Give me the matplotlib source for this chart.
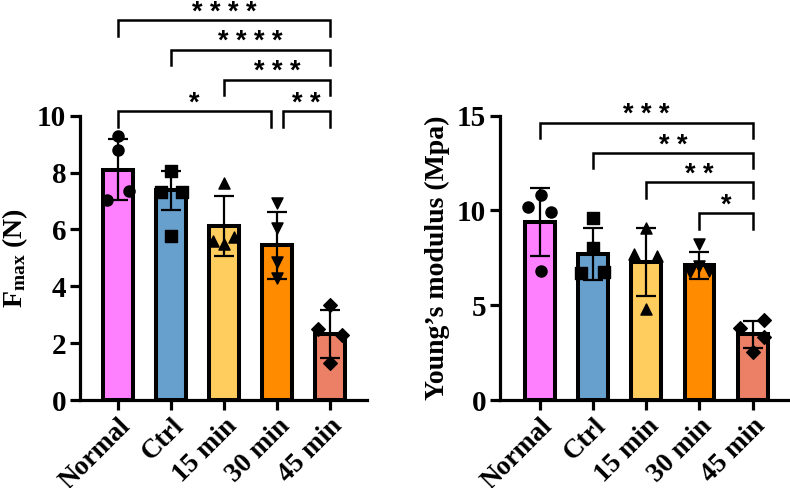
import matplotlib
matplotlib.use("Agg")
import matplotlib.pyplot as plt

# ---- data ----
groups = ["Normal", "Ctrl", "15 min", "30 min", "45 min"]
colors = ["#FF80FF", "#67A0CD", "#FFCC5E", "#FF8C00", "#EB8066"]
markers = ["o", "s", "^", "v", "D"]

fmax_mean = [8.1, 7.37, 6.13, 5.45, 2.32]
fmax_sd = [1.08, 0.67, 1.05, 1.18, 0.83]
fmax_points = [
    [9.3, 8.78, 7.05, 7.35],
    [8.06, 7.3, 7.3, 5.77],
    [7.65, 5.6, 5.75, 5.5],
    [6.93, 6.05, 4.85, 4.3],
    [3.34, 2.5, 2.3, 1.3],
]
fmax_ticks = [0, 2, 4, 6, 8, 10]
fmax_brackets = [  # (from, to, height, label)
    (0, 4, 13.36, "* * * *"),
    (1, 4, 12.32, "* * * *"),
    (2, 4, 11.27, "* * *"),
    (0, 3, 10.15, "*"),
    (3, 4, 10.15, "* *"),
]

ym_mean = [9.4, 7.7, 7.28, 7.1, 3.46]
ym_sd = [1.8, 1.35, 1.8, 0.72, 0.73]
ym_points = [
    [10.8, 10.16, 9.93, 6.8],
    [9.58, 8.0, 6.68, 6.73],
    [9.05, 7.7, 7.6, 4.8],
    [8.21, 7.07, 6.77, 6.82],
    [4.22, 3.78, 3.34, 2.51],
]
ym_ticks = [0, 5, 10, 15]
ym_brackets = [
    (0, 4, 14.63, "* * *"),
    (1, 4, 13.04, "* *"),
    (2, 4, 11.5, "* *"),
    (3, 4, 9.85, "*"),
]

# horizontal jitter of the dots (category units), same order as the points
jitter = [
    [0.0, 0.0, -0.22, 0.2],
    [0.0, -0.2, 0.2, 0.0],
    [0.0, -0.2, 0.18, 0.0],
    [0.0, 0.0, 0.0, 0.0],
    [0.0, -0.22, 0.22, 0.0],
]
ym_jitter = [
    [0.02, -0.22, 0.22, 0.02],
    [0.0, 0.0, -0.22, 0.2],
    [0.0, -0.22, 0.2, 0.0],
    [0.0, 0.0, -0.18, 0.18],
    [0.22, -0.24, 0.22, 0.0],
]

SERIF = "Liberation Serif"
STAR = "Liberation Sans"
FS = 21
LW = 2.3

plt.rcParams["mathtext.fontset"] = "custom"
plt.rcParams["mathtext.rm"] = "Liberation Serif:bold"
plt.rcParams["mathtext.bf"] = "Liberation Serif:bold"
plt.rcParams["mathtext.it"] = "Liberation Serif:bold"


def panel(ax, means, sds, points, offs, ticks, ylim, brackets, leg, ylabel):
    x = list(range(len(groups)))
    ax.bar(x, means, width=0.56, color=colors, edgecolor="black",
           linewidth=2.9, zorder=2)
    ax.errorbar(x, means, yerr=sds, fmt="none", ecolor="black",
                elinewidth=1.6, capsize=7, capthick=1.6, zorder=3)
    for i in x:
        px = [i + d for d in offs[i]]
        ax.scatter(px, points[i], marker=markers[i], s=64 if markers[i] != "D" else 48,
                   color="black", zorder=4, clip_on=False)

    for a, b, h, lab in brackets:
        xa = a + (0.11 if (a, b) == (3, 4) and len(brackets) == 5 else 0)
        xb = b - (0.11 if (a, b) == (0, 3) else 0)
        ax.plot([xa, xa, xb, xb], [h - leg, h, h, h - leg], color="black",
                lw=1.8, clip_on=False, solid_joinstyle="miter", zorder=5)
        ax.text((xa + xb) / 2, h + leg * 0.02, lab, ha="center", va="baseline",
                fontsize=19.5, fontweight="heavy", family=STAR, clip_on=False)

    ax.set_xlim(-0.72, 4.7)
    ax.set_ylim(*ylim)
    ax.set_yticks(ticks)
    ax.set_xticks(x)
    ax.set_xticklabels(groups, rotation=45, ha="right", rotation_mode="anchor",
                       fontsize=19.5)
    ax.spines["top"].set_visible(False)
    ax.spines["right"].set_visible(False)
    for s in ("left", "bottom"):
        ax.spines[s].set_linewidth(LW)
    ax.tick_params(axis="both", direction="out", length=7, width=LW, pad=3)
    ax.tick_params(axis="y", labelsize=FS)
    for lab in ax.get_xticklabels() + ax.get_yticklabels():
        lab.set_family(SERIF)
        lab.set_fontweight("bold")
    ax.set_ylabel(ylabel, fontsize=20, fontweight="bold", family=SERIF, labelpad=5)


fig = plt.figure(figsize=(7.9, 4.88), dpi=100)
ax1 = fig.add_axes([0.1013, 0.1803, 0.3633, 0.5826])
ax2 = fig.add_axes([0.6329, 0.1803, 0.3671, 0.5826])

panel(ax1, fmax_mean, fmax_sd, fmax_points, jitter, fmax_ticks, (0, 10),
      fmax_brackets, 0.55, r"F$_{\mathrm{max}}$ (N)")
panel(ax2, ym_mean, ym_sd, ym_points, ym_jitter, ym_ticks, (0, 15),
      ym_brackets, 0.82, "Young\u2019s modulus (Mpa)")
ax2.set_xlim(-0.745, 4.7)

fig.savefig("out.png", dpi=100)
